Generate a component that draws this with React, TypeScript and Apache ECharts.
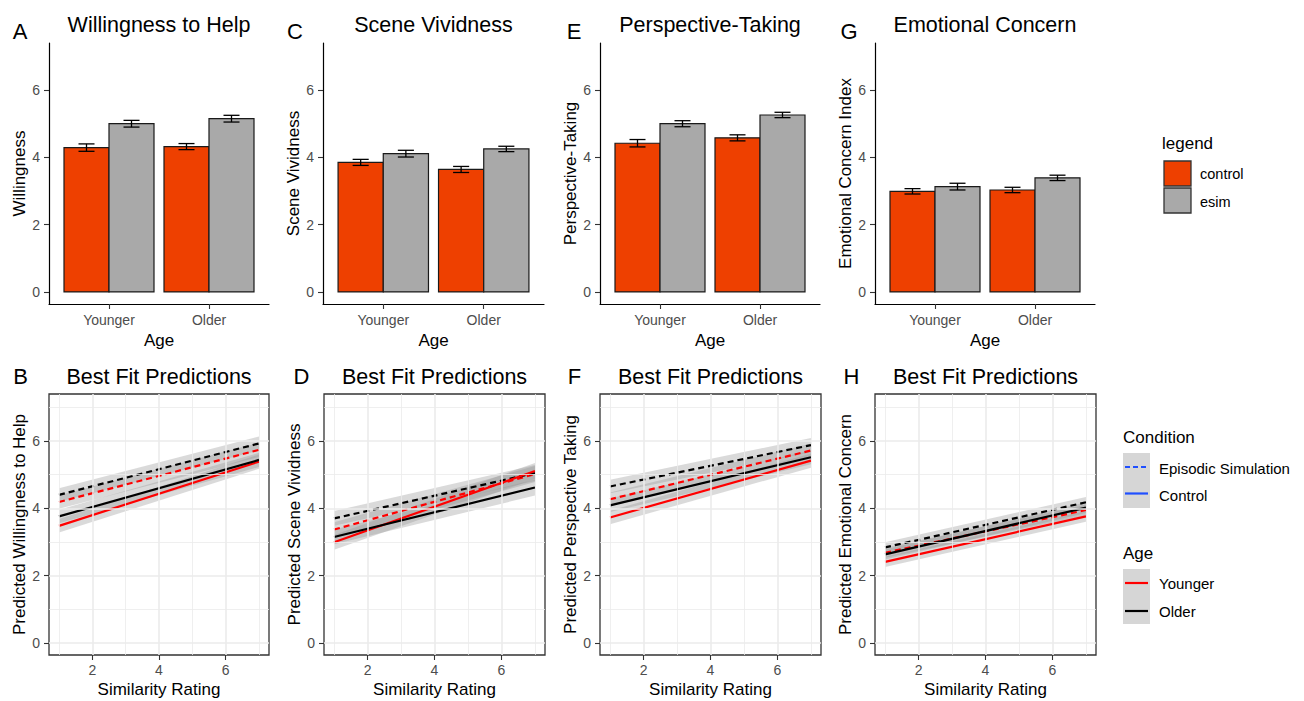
import { useEffect, useRef } from "react";
import * as echarts from "echarts";

const FONT = "'Liberation Sans', Arial, Helvetica, sans-serif";

// ---------- data ----------
const AGE = ["Younger", "Older"];
const AGE_POS = [1, 2];
const Y_TICKS = [0, 2, 4, 6];
const SIM = [1, 7];
const SIM_TICKS = [2, 4, 6];

// Top row: means and standard errors [Younger, Older]
const willingControl = [4.29, 4.32];
const willingControlSE = [0.11, 0.09];
const willingEsim = [5.0, 5.15];
const willingEsimSE = [0.1, 0.1];

const vividControl = [3.85, 3.64];
const vividControlSE = [0.09, 0.09];
const vividEsim = [4.11, 4.25];
const vividEsimSE = [0.1, 0.08];

const perspControl = [4.42, 4.58];
const perspControlSE = [0.11, 0.09];
const perspEsim = [5.0, 5.26];
const perspEsimSE = [0.09, 0.08];

const concernControl = [2.99, 3.03];
const concernControlSE = [0.08, 0.08];
const concernEsim = [3.13, 3.39];
const concernEsimSE = [0.1, 0.08];

// Bottom row: predicted values at similarity 1 and 7
const willYoungerCtrl = [3.48, 5.39];
const willOlderCtrl = [3.76, 5.44];
const willYoungerES = [4.19, 5.74];
const willOlderES = [4.4, 5.93];
const willBand = [0.2, 0.21];

const vividYoungerCtrl = [2.99, 5.11];
const vividOlderCtrl = [3.15, 4.62];
const vividYoungerES = [3.37, 5.02];
const vividOlderES = [3.7, 5.05];
const vividBand = [0.22, 0.24];

const perspYoungerCtrl = [3.73, 5.42];
const perspOlderCtrl = [4.09, 5.52];
const perspYoungerES = [4.27, 5.72];
const perspOlderES = [4.65, 5.88];
const perspBand = [0.2, 0.21];

const concernYoungerCtrl = [2.41, 3.76];
const concernOlderCtrl = [2.63, 4.02];
const concernYoungerES = [2.68, 3.95];
const concernOlderES = [2.84, 4.18];
const concernBand = [0.15, 0.16];

// ---------- styling / layout ----------
const RED_BAR = "#EE4000";
const GREY_BAR = "#A9A9A9";
const TICK_COLOR = "#333333";
const LABEL_COLOR = "#4d4d4d";
const GRID_COLOR = "#ebebeb";
const RIBBON = "rgba(150,150,150,0.35)";
const LEGEND_BLUE = "#1f4fff";
const Y_MIN = -0.36;
const Y_MAX = 7.4;
const BAR_HALF = 0.225;
const CAP = 0.08;

const topPanels = [
  { letter: "A", title: "Willingness to Help", yName: "Willingness", control: willingControl, controlSE: willingControlSE, esim: willingEsim, esimSE: willingEsimSE, left: 49, width: 220, letterX: 20 },
  { letter: "C", title: "Scene Vividness", yName: "Scene Vividness", control: vividControl, controlSE: vividControlSE, esim: vividEsim, esimSE: vividEsimSE, left: 323, width: 221, letterX: 295 },
  { letter: "E", title: "Perspective-Taking", yName: "Perspective-Taking", control: perspControl, controlSE: perspControlSE, esim: perspEsim, esimSE: perspEsimSE, left: 600, width: 220, letterX: 574 },
  { letter: "G", title: "Emotional Concern", yName: "Emotional Concern Index", control: concernControl, controlSE: concernControlSE, esim: concernEsim, esimSE: concernEsimSE, left: 875, width: 220, letterX: 849 },
];

const bottomPanels = [
  { letter: "B", yName: "Predicted Willingness to Help", yc: willYoungerCtrl, oc: willOlderCtrl, ye: willYoungerES, oe: willOlderES, band: willBand, left: 49, width: 220, letterX: 20.5 },
  { letter: "D", yName: "Predicted Scene Vividness", yc: vividYoungerCtrl, oc: vividOlderCtrl, ye: vividYoungerES, oe: vividOlderES, band: vividBand, left: 324, width: 221, letterX: 301.5 },
  { letter: "F", yName: "Predicted Perspective Taking", yc: perspYoungerCtrl, oc: perspOlderCtrl, ye: perspYoungerES, oe: perspOlderES, band: perspBand, left: 600, width: 221, letterX: 574.5 },
  { letter: "H", yName: "Predicted Emotional Concern", yc: concernYoungerCtrl, oc: concernOlderCtrl, ye: concernYoungerES, oe: concernOlderES, band: concernBand, left: 875, width: 221, letterX: 851.5 },
];

const TOP_Y = 43;
const TOP_H = 261;
const BOT_Y = 394;
const BOT_H = 261;

function barRender(offset: number, fill: string) {
  return (params: any, api: any) => {
    const x = api.value(0);
    const v = api.value(1);
    const p0 = api.coord([x + offset - BAR_HALF, v]);
    const p1 = api.coord([x + offset + BAR_HALF, 0]);
    return {
      type: "rect",
      shape: { x: p0[0], y: p0[1], width: p1[0] - p0[0], height: p1[1] - p0[1] },
      style: { fill, stroke: "#1a1a1a", lineWidth: 1.2 },
    };
  };
}

function errRender(params: any, api: any) {
  const x = api.value(0);
  const m = api.value(1);
  const se = api.value(2);
  const top = api.coord([x, m + se]);
  const bot = api.coord([x, m - se]);
  const l = api.coord([x - CAP, m]);
  const r = api.coord([x + CAP, m]);
  const st = { stroke: "#000", lineWidth: 1.3 };
  return {
    type: "group",
    children: [
      { type: "line", shape: { x1: top[0], y1: top[1], x2: bot[0], y2: bot[1] }, style: st },
      { type: "line", shape: { x1: l[0], y1: top[1], x2: r[0], y2: top[1] }, style: st },
      { type: "line", shape: { x1: l[0], y1: bot[1], x2: r[0], y2: bot[1] }, style: st },
    ],
  };
}

function ribbonRender(params: any, api: any) {
  const a = api.coord([api.value(0), api.value(1)]);
  const b = api.coord([api.value(3), api.value(4)]);
  const c = api.coord([api.value(3), api.value(5)]);
  const d = api.coord([api.value(0), api.value(2)]);
  return {
    type: "polygon",
    shape: { points: [a, b, c, d] },
    style: { fill: RIBBON },
  };
}

function buildOption() {
  const grid: any[] = [];
  const xAxis: any[] = [];
  const yAxis: any[] = [];
  const series: any[] = [];
  const graphic: any[] = [];

  const labelStyle = { fontSize: 14, color: LABEL_COLOR, fontFamily: FONT };
  const nameStyle = { fontSize: 17, color: "#000", fontFamily: FONT };

  topPanels.forEach((p, i) => {
    grid.push({ left: p.left, top: TOP_Y, width: p.width, height: TOP_H });
    xAxis.push({
      type: "value", gridIndex: i, min: 0.4, max: 2.6, position: "bottom",
      axisLine: { show: true, onZero: false, lineStyle: { color: "#000", width: 1.2 } },
      axisTick: { show: true, customValues: AGE_POS, length: 5, lineStyle: { color: TICK_COLOR, width: 1.1 } },
      axisLabel: { show: true, customValues: AGE_POS, formatter: (v: number) => AGE[Math.round(v) - 1] ?? "", margin: 9, ...labelStyle },
      splitLine: { show: false },
      name: "Age", nameLocation: "middle", nameGap: 28, nameTextStyle: nameStyle,
    });
    yAxis.push({
      type: "value", gridIndex: i, min: Y_MIN, max: Y_MAX,
      axisLine: { show: true, onZero: false, lineStyle: { color: "#000", width: 1.2 } },
      axisTick: { show: true, customValues: Y_TICKS, length: 5, lineStyle: { color: TICK_COLOR, width: 1.1 } },
      axisLabel: { show: true, customValues: Y_TICKS, margin: 9, ...labelStyle },
      splitLine: { show: false },
      name: p.yName, nameLocation: "middle", nameRotate: 90, nameGap: 21, nameTextStyle: nameStyle,
    });
    series.push({
      type: "custom", xAxisIndex: i, yAxisIndex: i, renderItem: barRender(-BAR_HALF, RED_BAR),
      encode: { x: 0, y: 1 }, data: AGE_POS.map((x, k) => [x, p.control[k]]), silent: true,
    });
    series.push({
      type: "custom", xAxisIndex: i, yAxisIndex: i, renderItem: barRender(BAR_HALF, GREY_BAR),
      encode: { x: 0, y: 1 }, data: AGE_POS.map((x, k) => [x, p.esim[k]]), silent: true,
    });
    series.push({
      type: "custom", xAxisIndex: i, yAxisIndex: i, renderItem: errRender, z: 5,
      encode: { x: 0, y: 1 },
      data: [
        ...AGE_POS.map((x, k) => [x - BAR_HALF, p.control[k], p.controlSE[k]]),
        ...AGE_POS.map((x, k) => [x + BAR_HALF, p.esim[k], p.esimSE[k]]),
      ],
      silent: true,
    });
    const cx = p.left + p.width / 2;
    graphic.push({ type: "text", x: cx, y: 25, style: { text: p.title, font: `21.5px ${FONT}`, fill: "#000", align: "center", verticalAlign: "middle", textAlign: "center", textVerticalAlign: "middle" } });
    graphic.push({ type: "text", x: p.letterX, y: 31.5, style: { text: p.letter, font: `22px ${FONT}`, fill: "#000", align: "center", verticalAlign: "middle", textAlign: "center", textVerticalAlign: "middle" } });
  });

  bottomPanels.forEach((p, j) => {
    const i = j + 4;
    grid.push({ left: p.left, top: BOT_Y, width: p.width, height: BOT_H, show: true, borderColor: "#333", borderWidth: 1.3, backgroundColor: "transparent" });
    xAxis.push({
      type: "value", gridIndex: i, min: 0.7, max: 7.3, position: "bottom",
      axisLine: { show: false, onZero: false },
      axisTick: { show: true, customValues: SIM_TICKS, length: 5, lineStyle: { color: TICK_COLOR, width: 1.1 } },
      axisLabel: { show: true, customValues: SIM_TICKS, margin: 8, ...labelStyle },
      splitLine: { show: false },
      name: "Similarity Rating", nameLocation: "middle", nameGap: 26, nameTextStyle: nameStyle,
    });
    yAxis.push({
      type: "value", gridIndex: i, min: Y_MIN, max: Y_MAX,
      axisLine: { show: false, onZero: false },
      axisTick: { show: true, customValues: Y_TICKS, length: 5, lineStyle: { color: TICK_COLOR, width: 1.1 } },
      axisLabel: { show: true, customValues: Y_TICKS, margin: 9, ...labelStyle },
      splitLine: { show: false },
      name: p.yName, nameLocation: "middle", nameRotate: 90, nameGap: 21, nameTextStyle: nameStyle,
    });
    // grid lines
    const major = { color: GRID_COLOR, width: 1.6, type: "solid" };
    const minor = { color: GRID_COLOR, width: 0.8, type: "solid" };
    const gridLines: any[] = [];
    Y_TICKS.forEach((v) => gridLines.push({ yAxis: v, lineStyle: major }));
    Y_TICKS.forEach((v) => gridLines.push({ yAxis: v + 1, lineStyle: minor }));
    SIM_TICKS.forEach((v) => gridLines.push({ xAxis: v, lineStyle: major }));
    SIM_TICKS.forEach((v) => gridLines.push({ xAxis: v - 1, lineStyle: minor }));
    gridLines.push({ xAxis: SIM_TICKS[SIM_TICKS.length - 1] + 1, lineStyle: minor });
    series.push({
      type: "line", xAxisIndex: i, yAxisIndex: i, data: [[SIM[0], 0]], symbol: "none", silent: true, z: 0,
      lineStyle: { opacity: 0 },
      markLine: { silent: true, symbol: ["none", "none"], label: { show: false }, animation: false, data: gridLines },
    });
    const lines = [
      { d: p.ye, color: "#ff0000", dashed: true },
      { d: p.oe, color: "#000000", dashed: true },
      { d: p.yc, color: "#ff0000", dashed: false },
      { d: p.oc, color: "#000000", dashed: false },
    ];
    series.push({
      type: "custom", xAxisIndex: i, yAxisIndex: i, renderItem: ribbonRender, silent: true, z: 2,
      encode: { x: [0, 3], y: [1, 2, 4, 5] },
      data: lines.map((l) => [SIM[0], l.d[0] - p.band[0], l.d[0] + p.band[0], SIM[1], l.d[1] - p.band[1], l.d[1] + p.band[1]]),
    });
    lines.forEach((l) => {
      series.push({
        type: "line", xAxisIndex: i, yAxisIndex: i, symbol: "none", silent: true, z: 3,
        data: SIM.map((x, k) => [x, l.d[k]]),
        lineStyle: { color: l.color, width: 2.2, type: l.dashed ? [6, 4] : "solid" },
      });
    });
    const cx = p.left + p.width / 2;
    graphic.push({ type: "text", x: cx, y: 377, style: { text: "Best Fit Predictions", font: `21.5px ${FONT}`, fill: "#000", align: "center", verticalAlign: "middle", textAlign: "center", textVerticalAlign: "middle" } });
    graphic.push({ type: "text", x: p.letterX, y: 376.5, style: { text: p.letter, font: `22px ${FONT}`, fill: "#000", align: "center", verticalAlign: "middle", textAlign: "center", textVerticalAlign: "middle" } });
  });

  // Legend 1 (bars)
  const txt = (text: string, x: number, y: number, size: number) => ({
    type: "text", x, y,
    style: { text, font: `${size}px ${FONT}`, fill: "#000", align: "left", verticalAlign: "middle", textAlign: "left", textVerticalAlign: "middle" },
  });
  graphic.push(txt("legend", 1162, 143, 17));
  graphic.push({ type: "rect", shape: { x: 1164, y: 161, width: 27, height: 25 }, style: { fill: RED_BAR, stroke: "#333", lineWidth: 1.3 } });
  graphic.push({ type: "rect", shape: { x: 1164, y: 188, width: 27, height: 25 }, style: { fill: GREY_BAR, stroke: "#333", lineWidth: 1.3 } });
  graphic.push(txt("control", 1200, 174, 14.5));
  graphic.push(txt("esim", 1200, 202, 14.5));

  // Legend 2 (Condition)
  graphic.push(txt("Condition", 1123, 437, 17));
  graphic.push({ type: "rect", shape: { x: 1123, y: 453, width: 27, height: 55 }, style: { fill: "#d6d6d6" } });
  graphic.push({ type: "line", shape: { x1: 1125, y1: 467, x2: 1148, y2: 467 }, style: { stroke: LEGEND_BLUE, lineWidth: 2.2, lineDash: [5, 3] } });
  graphic.push({ type: "line", shape: { x1: 1125, y1: 493.5, x2: 1148, y2: 493.5 }, style: { stroke: LEGEND_BLUE, lineWidth: 2.2 } });
  graphic.push(txt("Episodic Simulation", 1159, 468, 15));
  graphic.push(txt("Control", 1159, 495, 15));

  // Legend 3 (Age)
  graphic.push(txt("Age", 1123, 553, 17));
  graphic.push({ type: "rect", shape: { x: 1123, y: 569, width: 27, height: 55 }, style: { fill: "#d6d6d6" } });
  graphic.push({ type: "line", shape: { x1: 1125, y1: 583, x2: 1148, y2: 583 }, style: { stroke: "#ff0000", lineWidth: 2.2 } });
  graphic.push({ type: "line", shape: { x1: 1125, y1: 611, x2: 1148, y2: 611 }, style: { stroke: "#000", lineWidth: 2.2 } });
  graphic.push(txt("Younger", 1159, 583, 15));
  graphic.push(txt("Older", 1159, 611, 15));

  return {
    animation: false,
    backgroundColor: "#ffffff",
    textStyle: { fontFamily: FONT },
    grid, xAxis, yAxis, series, graphic,
  };
}

export default function App() {
  const ref = useRef<HTMLDivElement>(null);
  useEffect(() => {
    if (!ref.current) return;
    const chart = echarts.init(ref.current, undefined, { renderer: "svg" });
    chart.setOption(buildOption() as any);
    return () => chart.dispose();
  }, []);
  return (
    <div
      ref={ref}
      style={{ position: "absolute", left: 0, top: 0, width: 1304, height: 701, background: "#fff" }}
    />
  );
}
